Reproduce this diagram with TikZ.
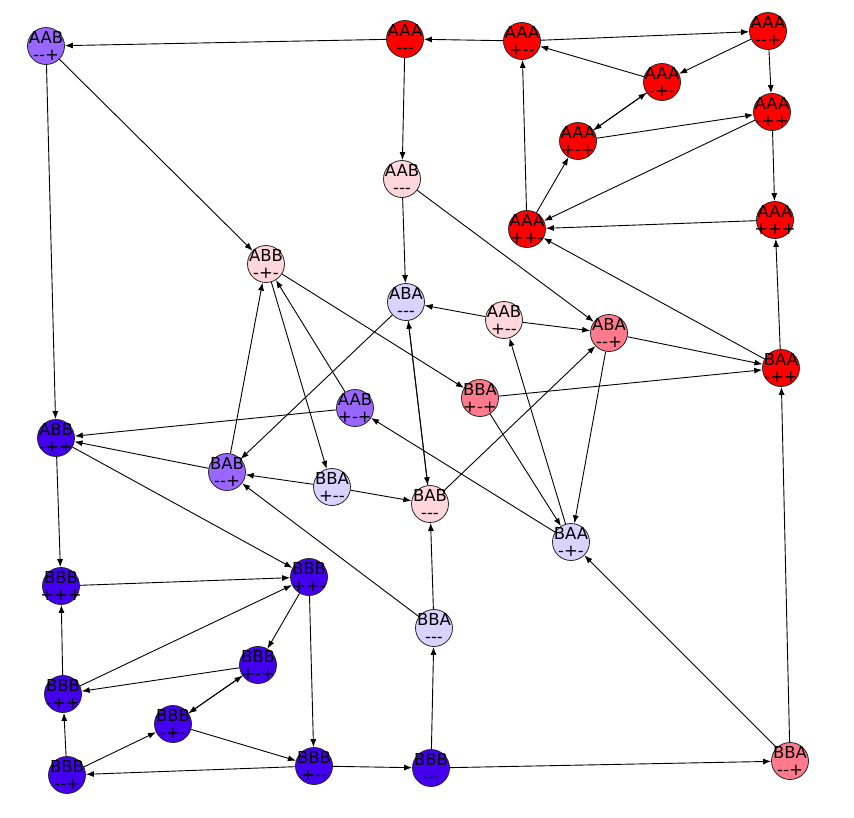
\documentclass[tikz,border=0pt]{standalone}
\usepackage{fontspec}
\setmainfont{DejaVu Sans}[Ligatures=TeXOff]
\usetikzlibrary{arrows.meta}
\definecolor{nred}{HTML}{FF0000}
\definecolor{npink}{HTML}{FF7A8C}
\definecolor{nblush}{HTML}{FFD6DB}
\definecolor{nlilac}{HTML}{DAD3FF}
\definecolor{nviolet}{HTML}{9966FF}
\definecolor{nblue}{HTML}{4400EE}
\begin{document}
\begin{tikzpicture}[x=1pt,y=-1pt,st/.style={circle,draw=black!85,line width=.8pt,minimum size=37pt,inner sep=0pt},lbl/.style={align=center,inner sep=0pt,font=\fontsize{16.5}{17}\selectfont},sred/.style={st,fill=nred},spink/.style={st,fill=npink},sblush/.style={st,fill=nblush},slilac/.style={st,fill=nlilac},sviolet/.style={st,fill=nviolet},sblue/.style={st,fill=nblue},a/.style={-{Latex[length=8pt,width=6pt]},line width=.9pt,draw=black}]
\useasboundingbox (0,0) rectangle (854,817);
% top group
\node[sviolet,label={[lbl]center:AAB\\--+}] (AABmmp) at (46,46) {};
\node[sred,label={[lbl]center:AAA\\---}] (AAAmmm) at (405,39) {};
\node[sred,label={[lbl]center:AAA\\+--}] (AAApmm) at (522,41) {};
\node[sred,label={[lbl]center:AAA\\--+}] (AAAmmp) at (768,31) {};
\node[sred,label={[lbl]center:AAA\\-+-}] (AAAmpm) at (662,82) {};
\node[sred,label={[lbl]center:AAA\\+-+}] (AAApmp) at (578,141) {};
\node[sred,label={[lbl]center:AAA\\-++}] (AAAmpp) at (772,112) {};
\node[sblush,label={[lbl]center:AAB\\---}] (AABmmm) at (402,179) {};
\node[sred,label={[lbl]center:AAA\\++-}] (AAAppm) at (527,229) {};
\node[sred,label={[lbl]center:AAA\\+++}] (AAAppp) at (775,220) {};
% middle group
\node[sblush,label={[lbl]center:ABB\\-+-}] (ABBmpm) at (266,264) {};
\node[slilac,label={[lbl]center:ABA\\---}] (ABAmmm) at (406,302) {};
\node[sblush,label={[lbl]center:AAB\\+--}] (AABpmm) at (504,320) {};
\node[spink,label={[lbl]center:ABA\\--+}] (ABAmmp) at (609,333) {};
\node[sred,label={[lbl]center:BAA\\-++}] (BAAmpp) at (781,368) {};
\node[spink,label={[lbl]center:BBA\\+-+}] (BBApmp) at (480,398) {};
\node[sviolet,label={[lbl]center:AAB\\+-+}] (AABpmp) at (355,408) {};
\node[sblue,label={[lbl]center:ABB\\-++}] (ABBmpp) at (56,438) {};
\node[sviolet,label={[lbl]center:BAB\\--+}] (BABmmp) at (227,472) {};
\node[slilac,label={[lbl]center:BBA\\+--}] (BBApmm) at (332,487) {};
\node[sblush,label={[lbl]center:BAB\\---}] (BABmmm) at (430,504) {};
\node[slilac,label={[lbl]center:BAA\\-+-}] (BAAmpm) at (571,542) {};
% bottom group
\node[sblue,label={[lbl]center:BBB\\+++}] (BBBppp) at (61,586) {};
\node[sblue,label={[lbl]center:BBB\\++-}] (BBBppm) at (309,577) {};
\node[slilac,label={[lbl]center:BBA\\---}] (BBAmmm) at (434,628) {};
\node[sblue,label={[lbl]center:BBB\\+-+}] (BBBpmp) at (258,665) {};
\node[sblue,label={[lbl]center:BBB\\-++}] (BBBmpp) at (63,694) {};
\node[sblue,label={[lbl]center:BBB\\-+-}] (BBBmpm) at (173,724) {};
\node[sblue,label={[lbl]center:BBB\\--+}] (BBBmmp) at (67,775) {};
\node[sblue,label={[lbl]center:BBB\\+--}] (BBBpmm) at (314,766) {};
\node[sblue,label={[lbl]center:BBB\\---}] (BBBmmm) at (431,768) {};
\node[spink,label={[lbl]center:BBA\\--+}] (BBAmmp) at (790,761) {};
% connectors
\draw[a] (AAAmmm)--(AABmmp); \draw[a] (AAApmm)--(AAAmmm); \draw[a] (AAApmm)--(AAAmmp);
\draw[a] (AAAmpm)--(AAApmm); \draw[a] (AAAmmp)--(AAAmpm); \draw[a] (AAAmmp)--(AAAmpp);
\draw[a] (AAAmpm)--(AAApmp); \draw[a] (AAApmp)--(AAAmpm); \draw[a] (AAApmp)--(AAAmpp);
\draw[a] (AAAmpp)--(AAAppm); \draw[a] (AAAppp)--(AAAppm); \draw[a] (BAAmpp)--(AAAppm);
\draw[a] (AAAppm)--(AAApmm); \draw[a] (AAAppm)--(AAApmp); \draw[a] (AAAmpp)--(AAAppp);
\draw[a] (BAAmpp)--(AAAppp); \draw[a] (BBAmmp)--(BAAmpp); \draw[a] (AAAmmm)--(AABmmm);
\draw[a] (AABmmm)--(ABAmmm); \draw[a] (AABmmm)--(ABAmmp); \draw[a] (AABmmp)--(ABBmpm);
\draw[a] (AABmmp)--(ABBmpp); \draw[a] (ABBmpm)--(BBApmp); \draw[a] (ABBmpm)--(BBApmm);
\draw[a] (AABpmp)--(ABBmpm); \draw[a] (BABmmp)--(ABBmpm); \draw[a] (ABAmmm)--(BABmmp);
\draw[a] (ABAmmm)--(BABmmm); \draw[a] (BABmmm)--(ABAmmm); \draw[a] (AABpmm)--(ABAmmm);
\draw[a] (AABpmm)--(ABAmmp); \draw[a] (BABmmm)--(ABAmmp); \draw[a] (ABAmmp)--(BAAmpp);
\draw[a] (BBApmp)--(BAAmpp); \draw[a] (ABAmmp)--(BAAmpm); \draw[a] (BBApmp)--(BAAmpm);
\draw[a] (BAAmpm)--(AABpmm); \draw[a] (BAAmpm)--(AABpmp); \draw[a] (BBAmmp)--(BAAmpm);
\draw[a] (AABpmp)--(ABBmpp); \draw[a] (BABmmp)--(ABBmpp); \draw[a] (ABBmpp)--(BBBppm);
\draw[a] (ABBmpp)--(BBBppp); \draw[a] (BBApmm)--(BABmmp); \draw[a] (BBApmm)--(BABmmm);
\draw[a] (BBAmmm)--(BABmmp); \draw[a] (BBAmmm)--(BABmmm); \draw[a] (BBBmmm)--(BBAmmm);
\draw[a] (BBBmmm)--(BBAmmp); \draw[a] (BBBpmm)--(BBBmmm); \draw[a] (BBBpmm)--(BBBmmp);
\draw[a] (BBBppm)--(BBBpmm); \draw[a] (BBBppm)--(BBBpmp); \draw[a] (BBBppp)--(BBBppm);
\draw[a] (BBBmpp)--(BBBppm); \draw[a] (BBBmpp)--(BBBppp); \draw[a] (BBBpmp)--(BBBmpp);
\draw[a] (BBBpmp)--(BBBmpm); \draw[a] (BBBmpm)--(BBBpmp); \draw[a] (BBBmpm)--(BBBpmm);
\draw[a] (BBBmmp)--(BBBmpm); \draw[a] (BBBmmp)--(BBBmpp);
\end{tikzpicture}
\end{document}
